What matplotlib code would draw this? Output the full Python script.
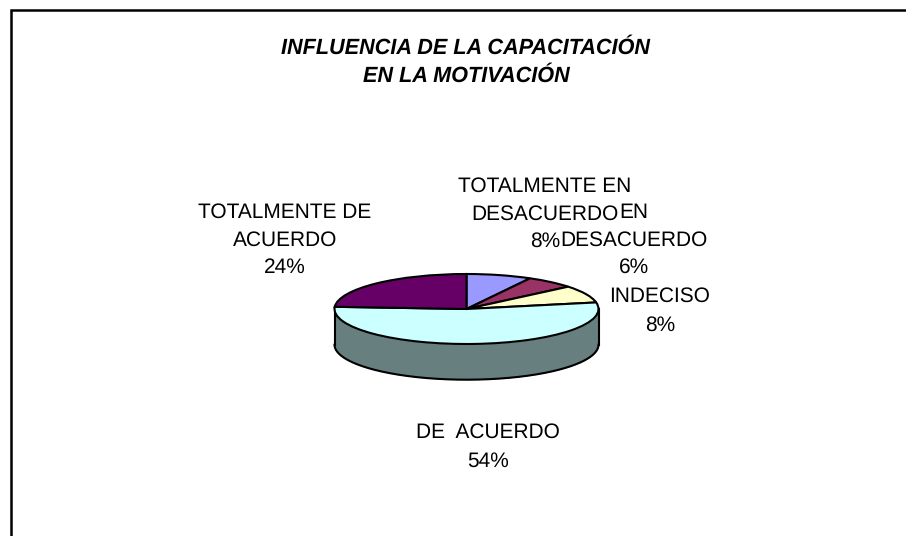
import matplotlib
matplotlib.use('Agg')
import matplotlib.pyplot as plt
import numpy as np

labels = ['TOTALMENTE EN\nDESACUERDO', 'EN\nDESACUERDO', 'INDECISO', 'DE  ACUERDO', 'TOTALMENTE DE\nACUERDO']
values = [8, 6, 8, 54, 24]
colors = ['#9999ff', '#993366', '#ffffcc', '#ccffff', '#660066']
wall_color = '#677f7f'
title = 'INFLUENCIA DE LA CAPACITACIÓN\nEN LA MOTIVACIÓN'

W, H = 906, 536
plt.rcParams['font.family'] = ['Liberation Sans', 'DejaVu Sans']
plt.rcParams['text.hinting'] = 'no_hinting'

fig = plt.figure(figsize=(W / 100, H / 100), dpi=100)

# background axes in pixels, for frame and text
bg = fig.add_axes([0, 0, 1, 1])
bg.set_xlim(0, W)
bg.set_ylim(H, 0)
bg.axis('off')
bg.plot([10.5, 10.5, W], [H, 10, 10], color='black', lw=1.8, solid_joinstyle='miter')

bg.text(466, 62, title, ha='center', va='center', fontsize=15.6, fontweight='bold', fontstyle='italic', linespacing=1.45)

fs = 15
ls = 1.52
pct = [f'{v}%' for v in values]
bg.text(545, 214, labels[0] + '\n' + pct[0], ha='center', va='center', fontsize=fs, linespacing=ls)
bg.text(634, 240, labels[1] + '\n' + pct[1], ha='center', va='center', fontsize=fs, linespacing=ls)
bg.text(660, 311, labels[2] + '\n' + pct[2], ha='center', va='center', fontsize=fs, linespacing=1.6)
bg.text(488, 447, labels[3] + '\n' + pct[3], ha='center', va='center', fontsize=fs, linespacing=1.6)
bg.text(285, 240, labels[4] + '\n' + pct[4], ha='center', va='center', fontsize=fs, linespacing=ls)

# pie axes, stretched so the circle becomes a flat ellipse
cx, cy, rx, ry = 466.5, 309, 132, 35
ax = fig.add_axes([(cx - rx) / W, 1 - (cy + ry) / H, 2 * rx / W, 2 * ry / H])
ax.pie(values, colors=colors, startangle=90, counterclock=False, radius=1,
       wedgeprops={'edgecolor': 'black', 'linewidth': 1.5})
ax.set_aspect('auto')
ax.set_xlim(-1, 1)
ax.set_ylim(-1, 1)
ax.axis('off')

# front wall of the cylinder
depth = 1.02
t = np.linspace(np.pi, 2 * np.pi, 200)
ax.fill_between(np.cos(t), np.sin(t) - depth, np.sin(t), color=wall_color, zorder=0.5, clip_on=False, lw=0)
ax.plot(np.cos(t), np.sin(t) - depth, color='black', lw=1.5, clip_on=False, zorder=0.6)
ax.plot([-1, -1], [0, -depth], color='black', lw=1.5, clip_on=False, zorder=0.6)
ax.plot([1, 1], [0, -depth], color='black', lw=1.5, clip_on=False, zorder=0.6)
for w in ax.patches:
    w.set_clip_on(False)

fig.savefig('out.png', dpi=100)
